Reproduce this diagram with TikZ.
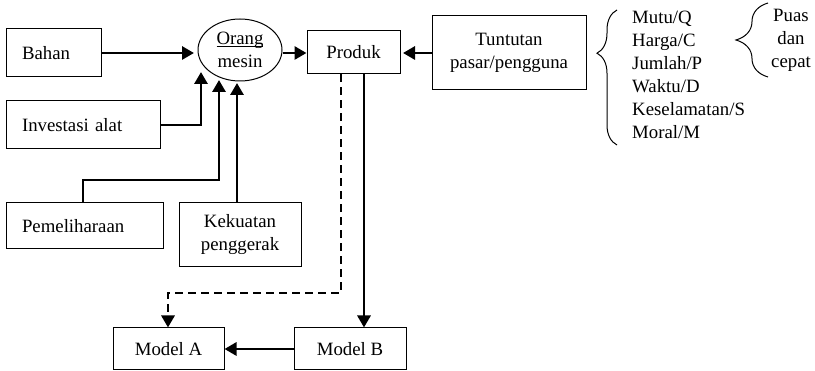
\documentclass[tikz,border=0pt]{standalone}
\usepackage{fontspec}
\setmainfont{Liberation Serif}
\usetikzlibrary{arrows.meta,decorations.pathreplacing,shapes.geometric}

\begin{document}
\begin{tikzpicture}[x=1pt,y=-1pt,
	font=\fontsize{18.8}{23}\selectfont,
	kotak/.style={draw,line width=1pt,inner sep=0pt},
	kiri/.style={kotak,inner xsep=16pt,align=left},
	panah/.style={line width=2.9pt,-{Triangle[length=12pt,width=13pt]}},
	kurung/.style={decorate,line width=1pt}]
	\useasboundingbox (0,0) rectangle (815,371);
	
	% Define the boxes
	\node[kiri,text width=63pt,minimum height=48pt] (bahan) at (53.5,53) {Bahan};
	\node[kiri,text width=122pt,minimum height=48pt] (alat) at (83,125) {Investasi alat};
	\node[kiri,text width=125pt,minimum height=46pt] (pelihara) at (84.5,226) {Pemeliharaan};
	\node[kotak,minimum width=122pt,minimum height=64pt,align=center] (gerak) at (240,235) {Kekuatan\\penggerak};
	\node[kotak,ellipse,minimum width=84pt,minimum height=62pt,align=center] (orang) at (240,50) {\underline{\smash{Orang}}\vphantom{Orang}\\mesin};
	\node[kotak,minimum width=93pt,minimum height=43pt] (produk) at (353.5,52.5) {Produk};
	\node[kotak,minimum width=154pt,minimum height=74pt,align=center] (tuntut) at (509,53) {Tuntutan\\pasar/pengguna};
	\node[kotak,minimum width=111pt,minimum height=42pt] (modelA) at (168.5,349) {Model A};
	\node[kotak,minimum width=112pt,minimum height=42pt] (modelB) at (350,349) {Model B};
	
	% Define the arrow ends
	\coordinate (o1) at (201,72);
	\coordinate (o2) at (219,80);
	\coordinate (o3) at (237,83);
	\coordinate (belok) at (168,293);
	
	% Draw the arrows
	\draw[panah] (bahan.east) -- (194,53);
	\draw[panah] (orang.east |- 0,53) -- (produk.west |- 0,53);
	\draw[panah] (tuntut.west) -- (403,53);
	\draw[panah] (alat.east) -| (o1);
	\draw[panah] (pelihara.north -| 83,0) |- (219,180) -- (o2);
	\draw[panah] (gerak.north -| o3) -- (o3);
	\draw[panah,dash pattern=on 8pt off 5pt] (produk.south -| 341,0) |- (belok) -- (modelA.north -| belok);
	\draw[panah] (produk.south -| 364,0) -- (modelB.north -| 364,0);
	\draw[panah] (modelB.west) -- (modelA.east);
	
	% Draw the lists with braces
	\node[inner sep=0pt,anchor=west,align=left] (syarat) at (632,75) {Mutu/Q\\Harga/C\\Jumlah/P\\Waktu/D\\Keselamatan/S\\Moral/M};
	\node[inner sep=0pt,align=center] (puas) at (791,40) {Puas\\dan\\cepat};
	\draw[kurung,decoration={brace,amplitude=20pt,aspect=0.68}] (617,145) -- (617,10);
	\draw[kurung,decoration={brace,amplitude=32pt}] (768,77) -- (768,3);
\end{tikzpicture}
\end{document}
